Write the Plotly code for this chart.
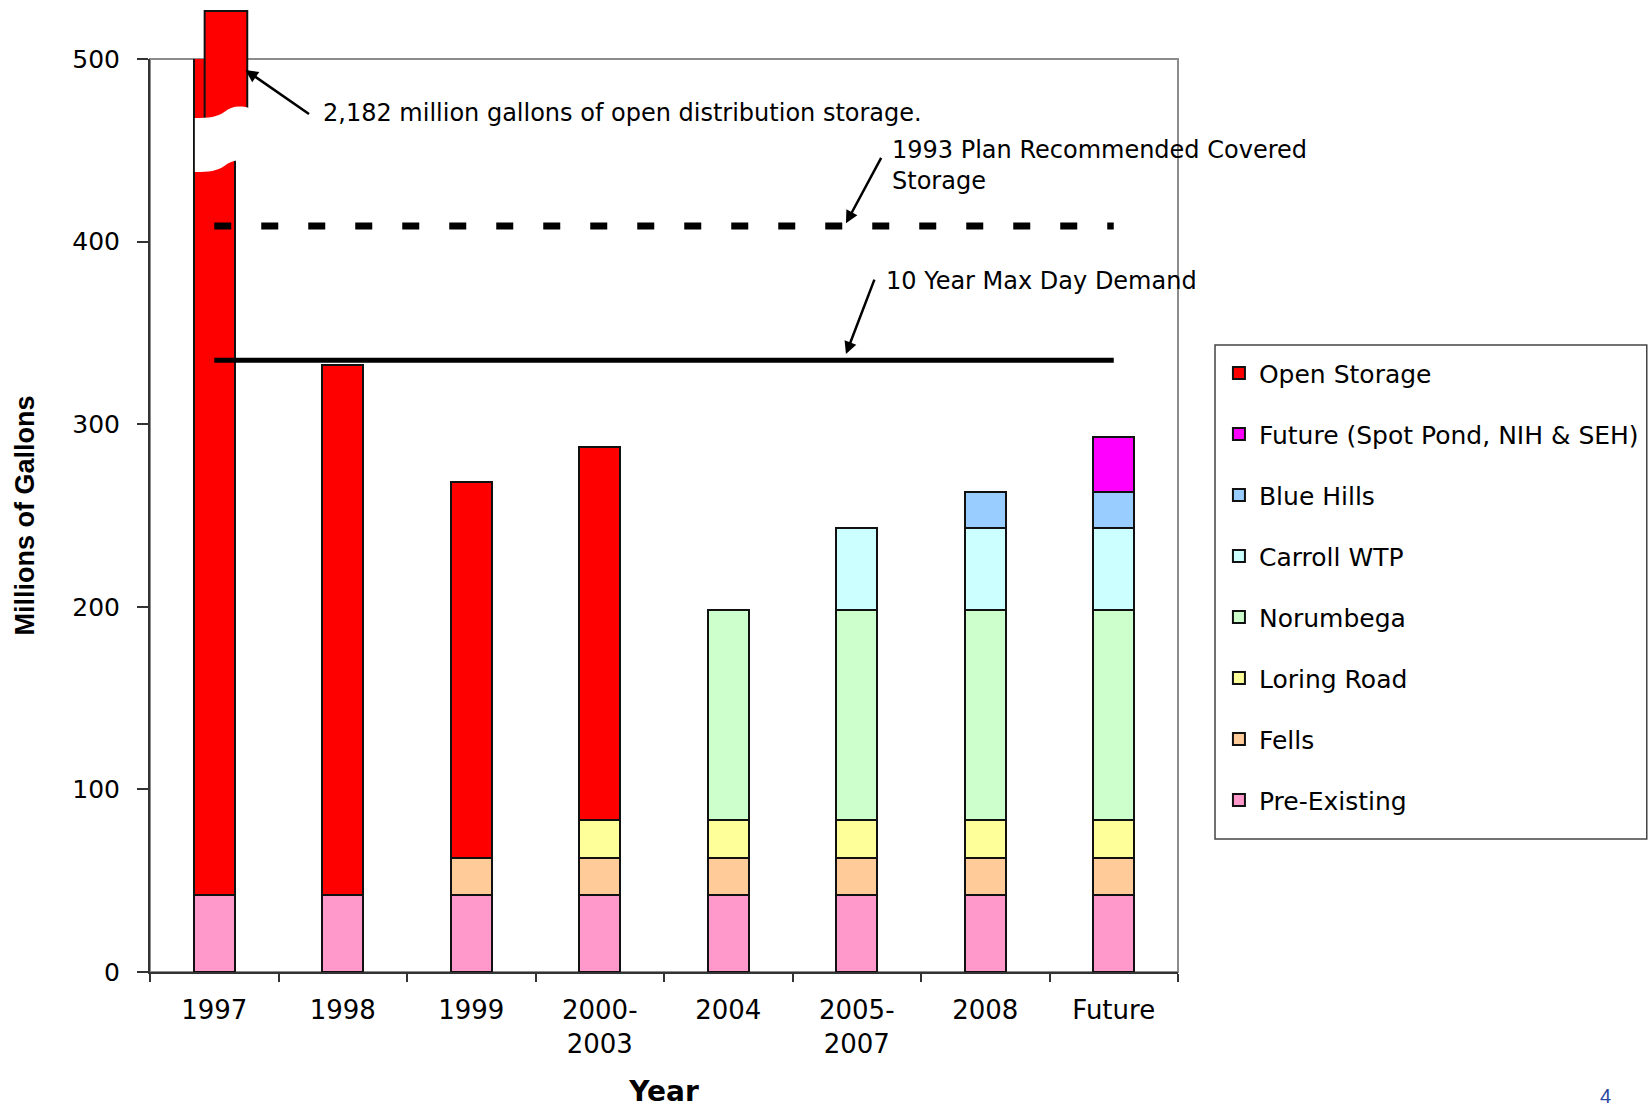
import plotly.graph_objects as go

# ---- data -------------------------------------------------------------
categories = ["1997", "1998", "1999", "2000-2003", "2004", "2005-2007", "2008", "Future"]
tick_labels = ["1997", "1998", "1999", "2000-<br>2003", "2004", "2005-<br>2007", "2008", "Future"]

# storage volume by facility, millions of gallons (None = not yet in service)
pre_existing = [42, 42, 42, 42, 42, 42, 42, 42]
fells = [None, None, 20.5, 20.5, 20.5, 20.5, 20.5, 20.5]
loring_road = [None, None, None, 20.5, 20.5, 20.5, 20.5, 20.5]
norumbega = [None, None, None, None, 115, 115, 115, 115]
carroll_wtp = [None, None, None, None, None, 45, 45, 45]
blue_hills = [None, None, None, None, None, None, 20, 20]
future_sites = [None, None, None, None, None, None, None, 30]
open_storage = [2182, 290.5, 206, 204.5, None, None, None, None]

# reference levels
covered_storage_target = 408.5   # 1993 plan recommended covered storage
max_day_demand = 335             # 10 year max day demand

y_ticks = [0, 100, 200, 300, 400, 500]

# stacking order, bottom to top
series = [
    ("Pre-Existing", pre_existing, "#FF99CC"),
    ("Fells", fells, "#FFCC99"),
    ("Loring Road", loring_road, "#FFFF99"),
    ("Norumbega", norumbega, "#CCFFCC"),
    ("Carroll WTP", carroll_wtp, "#CCFFFF"),
    ("Blue Hills", blue_hills, "#99CCFF"),
    ("Future (Spot Pond, NIH & SEH)", future_sites, "#FF00FF"),
    ("Open Storage", open_storage, "#FF0000"),
]

FONT = "DejaVu Sans"

fig = go.Figure()

n = len(series)
for i, (name, values, color) in enumerate(series):
    fig.add_trace(go.Bar(
        x=categories, y=values, name=name, legendgroup=name,
        legendrank=n - i,          # top of the stack listed first
        width=0.32,
        marker=dict(color=color, line=dict(color="#111111", width=2)),
        cliponaxis=True,
    ))

# reference lines spanning the first to the last category
fig.add_trace(go.Scatter(
    x=[categories[0], categories[-1]],
    y=[covered_storage_target, covered_storage_target],
    mode="lines", showlegend=False, hoverinfo="skip",
    line=dict(color="black", width=7, dash="17px,30px"),
))
fig.add_trace(go.Scatter(
    x=[categories[0], categories[-1]],
    y=[max_day_demand, max_day_demand],
    mode="lines", showlegend=False, hoverinfo="skip",
    line=dict(color="black", width=5),
))

# ---- broken-bar marker on the off-scale 1997 column -------------------
first_center = 0.5 / len(categories)   # paper x of the first category centre
shapes = [
    # plot frame (top/right in grey; the axis lines draw over left/bottom)
    dict(type="rect", xref="paper", yref="paper", x0=0, x1=1, y0=0, y1=1,
         line=dict(color="#8c8c8c", width=2), layer="below"),
    # displaced top piece of the broken bar
    dict(type="rect", xref="paper", yref="paper",
         xsizemode="pixel", ysizemode="pixel",
         xanchor=first_center, yanchor=1,
         x0=-9.6, x1=33, y0=-60, y1=48,
         fillcolor="#FF0000", line=dict(color="#111111", width=2), layer="above"),
    # white wavy gap
    dict(type="path", xref="paper", yref="paper",
         xsizemode="pixel", ysizemode="pixel",
         xanchor=first_center, yanchor=1,
         path=("M -19.4,-59 C -5,-59 3,-58 10,-53 C 16,-48 24,-46 35,-49 "
               "L 35,-103 C 24,-100 16,-102 10,-107 C 3,-112 -5,-113 -19.4,-113 Z"),
         fillcolor="white", line=dict(width=0), layer="above"),
    # legend frame
    dict(type="rect", xref="paper", yref="paper",
         x0=1.036, x1=1.456, y0=0.1457, y1=0.6867,
         line=dict(color="#444444", width=1.5), fillcolor="rgba(0,0,0,0)"),
]

ANN_FONT = dict(size=24, family=FONT, color="black")
annotations = [
    # arrow to the off-scale bar
    dict(x=0.243, y=494, xref="x", yref="y", text="", showarrow=True,
         ax=65, ay=45, arrowhead=2, arrowsize=1, arrowwidth=2.5, arrowcolor="black"),
    dict(x=0.834, y=470.7, xref="x", yref="y", xanchor="left", yanchor="middle",
         text="2,182 million gallons of open distribution storage.",
         showarrow=False, font=ANN_FONT),
    # covered storage label
    dict(x=4.916, y=410, xref="x", yref="y", text="", showarrow=True,
         ax=36, ay=-67, arrowhead=2, arrowsize=1, arrowwidth=2.5, arrowcolor="black"),
    dict(x=5.258, y=441.7, xref="x", yref="y", xanchor="left", yanchor="middle",
         text="1993 Plan Recommended Covered<br>Storage", align="left",
         showarrow=False, font=ANN_FONT),
    # max day demand label
    dict(x=4.916, y=338.4, xref="x", yref="y", text="", showarrow=True,
         ax=29, ay=-76, arrowhead=2, arrowsize=1, arrowwidth=2.5, arrowcolor="black"),
    dict(x=5.215, y=378.6, xref="x", yref="y", xanchor="left", yanchor="middle",
         text="10 Year Max Day Demand",
         showarrow=False, font=ANN_FONT),
    # page number in the bottom-right corner
    dict(x=1.4154, y=-0.149, xref="paper", yref="paper",
         xanchor="center", yanchor="bottom", text="4", showarrow=False,
         borderpad=0,
         font=dict(size=20, family="Liberation Sans", color="#2a46a0")),
]

fig.update_layout(
    width=1649, height=1108, autosize=False,
    margin=dict(l=150, r=471, t=59, b=136, pad=0),
    plot_bgcolor="white", paper_bgcolor="white",
    barmode="stack",
    font=dict(family=FONT, color="black"),
    shapes=shapes,
    annotations=annotations,
    legend=dict(
        xref="container", yref="container",
        x=0.7392, y=0.6838, xanchor="left", yanchor="top",
        traceorder="grouped", tracegroupgap=25.5,
        font=dict(size=25, family=FONT, color="black"),
        bgcolor="rgba(0,0,0,0)", borderwidth=0,
    ),
    xaxis=dict(
        type="category", categoryorder="array", categoryarray=categories,
        range=[-0.5, len(categories) - 0.5], automargin=False,
        tickmode="array", tickvals=categories, ticktext=tick_labels,
        tickson="boundaries", ticks="outside", ticklen=8, tickwidth=1.5,
        tickcolor="#333333", ticklabelstandoff=14,
        showline=True, linecolor="#333333", linewidth=2,
        showgrid=False, zeroline=False,
        tickfont=dict(size=26, family=FONT, color="black"),
        title=dict(text="<b>Year</b>", standoff=26,
                   font=dict(size=28, family=FONT, color="black")),
    ),
    yaxis=dict(
        range=[0, 500], tickmode="array", tickvals=y_ticks, automargin=False,
        ticks="outside", ticklen=11, tickwidth=1.5, tickcolor="#333333",
        ticklabelstandoff=12,
        showline=True, linecolor="#333333", linewidth=2,
        showgrid=False, zeroline=False,
        tickfont=dict(size=25, family=FONT, color="black"),
        title=dict(text="<b>Millions of Gallons</b>", standoff=30,
                   font=dict(size=27, family="Liberation Sans", color="black")),
    ),
)

fig.write_html("out.html")
